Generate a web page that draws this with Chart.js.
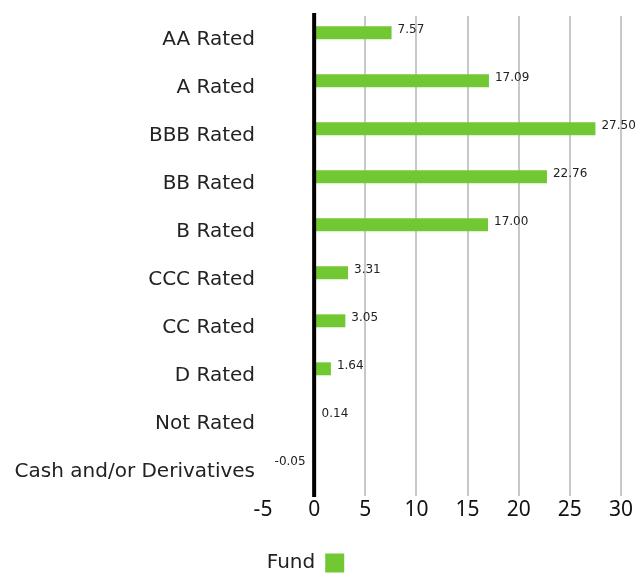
<!DOCTYPE html>
<html>
<head>
<meta charset="utf-8">
<script src="https://cdn.jsdelivr.net/npm/chart.js@4/dist/chart.umd.min.js"></script>
<style>
  html, body { margin: 0; padding: 0; background: #fff; }
  #wrap { width: 638px; height: 574px; }
</style>
</head>
<body>
<div id="wrap"><canvas id="c" width="638" height="574"></canvas></div>
<script>
const categories = ["AA Rated", "A Rated", "BBB Rated", "BB Rated", "B Rated", "CCC Rated", "CC Rated", "D Rated", "Not Rated", "Cash and/or Derivatives"];
const fundValues = [7.57, 17.09, 27.50, 22.76, 17.00, 3.31, 3.05, 1.64, 0.14, -0.05];
const xTicks = [-5, 0, 5, 10, 15, 20, 25, 30];
const seriesName = "Fund";
const barColor = "#72c832";

const valueLabels = {
  id: 'valueLabels',
  afterDatasetsDraw(chart) {
    const ctx = chart.ctx;
    const area = chart.chartArea;
    const x0 = chart.scales.x.getPixelForValue(0);
    ctx.save();
    // zero line drawn over the bars
    ctx.strokeStyle = '#000';
    ctx.lineWidth = 4;
    ctx.beginPath();
    ctx.moveTo(x0, area.top - 3);
    ctx.lineTo(x0, area.bottom + 1);
    ctx.stroke();

    const meta = chart.getDatasetMeta(0);
    ctx.font = '12px "DejaVu Sans"';
    ctx.fillStyle = '#222';
    ctx.textBaseline = 'middle';
    meta.data.forEach((el, i) => {
      const v = fundValues[i];
      const txt = v.toFixed(2);
      if (v >= 0) {
        ctx.textAlign = 'left';
        ctx.fillText(txt, el.x + 6, el.y - 3);
      } else {
        ctx.textAlign = 'right';
        ctx.fillText(txt, el.x - 8, el.y - 3);
      }
    });
    ctx.restore();
  }
};

const legendShift = {
  id: 'legendShift',
  afterLayout(chart) {
    if (chart.legend) { chart.legend.left -= 5; chart.legend.right -= 5; }
  }
};

new Chart(document.getElementById('c'), {
  type: 'bar',
  data: {
    labels: categories,
    datasets: [
      { label: seriesName, data: fundValues, backgroundColor: barColor, borderWidth: 0,
        categoryPercentage: 0.6, barPercentage: 0.9 },
      { label: '', data: [], backgroundColor: 'rgba(0,0,0,0)', borderWidth: 0,
        categoryPercentage: 0.6, barPercentage: 0.9 }
    ]
  },
  options: {
    indexAxis: 'y',
    responsive: false,
    animation: false,
    layout: { padding: { top: 16, right: 17, left: 0, bottom: -9 } },
    scales: {
      x: {
        min: -5, max: 30,
        afterBuildTicks(scale) { scale.ticks = xTicks.map(v => ({ value: v })); },
        afterFit(scale) { scale.height = 55; },
        border: { display: false },
        grid: {
          drawTicks: false,
          color: (c) => c.tick && (c.tick.value === 0 || c.tick.value === -5) ? 'rgba(0,0,0,0)' : '#c8c8c8',
          lineWidth: 2
        },
        ticks: { color: '#111', font: { family: 'Noto Sans', size: 21 }, padding: 1 }
      },
      y: {
        afterFit(scale) { scale.width = 263; scale.paddingTop = 0; scale.paddingBottom = 0; },
        border: { display: false },
        grid: { display: false, drawTicks: false },
        ticks: { color: '#222', font: { family: 'DejaVu Sans', size: 20 }, padding: 8 }
      }
    },
    plugins: {
      legend: {
        position: 'bottom',
        rtl: true,
        labels: {
          filter: (item) => item.text !== '',
          boxWidth: 19, boxHeight: 19, padding: 2,
          color: '#222',
          font: { family: 'DejaVu Sans', size: 20 }
        }
      },
      tooltip: { enabled: false }
    }
  },
  plugins: [valueLabels, legendShift]
});
</script>
</body>
</html>
